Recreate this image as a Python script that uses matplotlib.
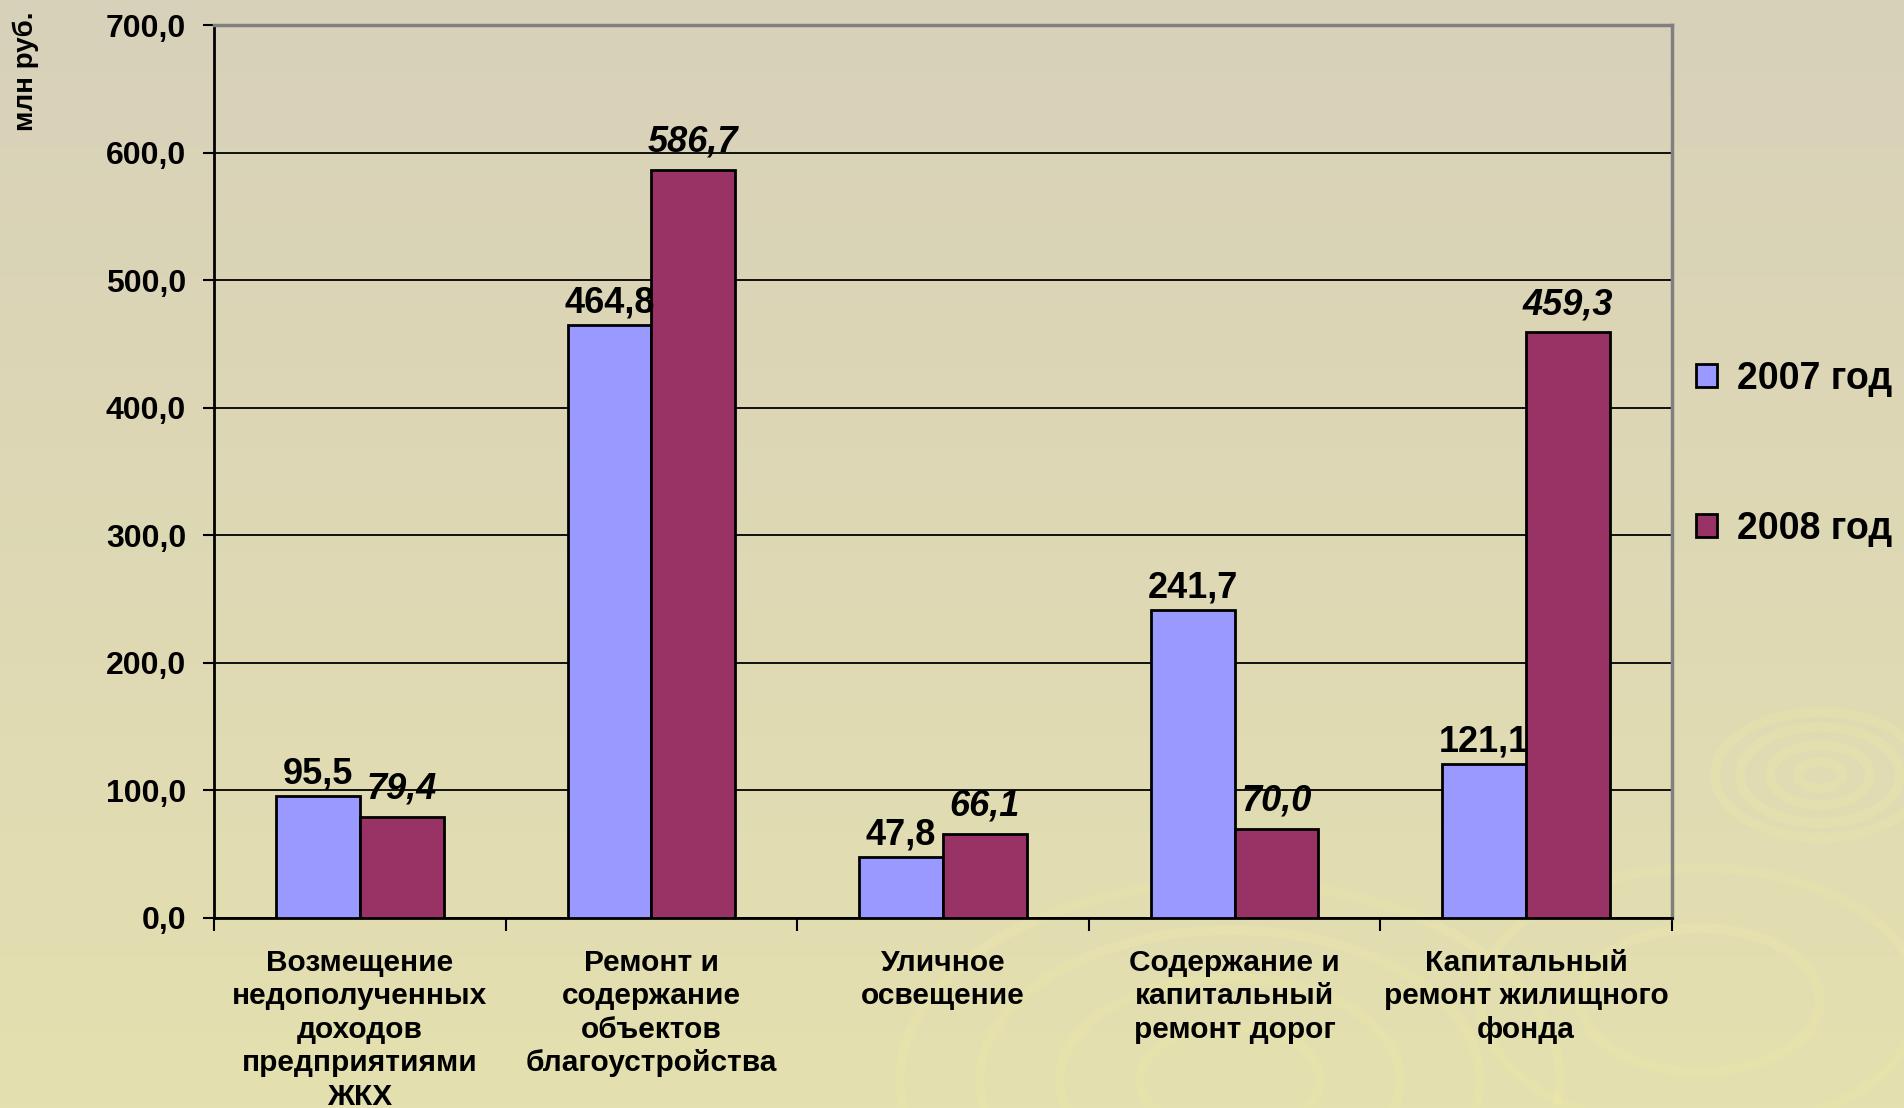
"""Bar chart: financing of housing and utilities, 2007 vs 2008 (mln rub.)."""

import numpy as np
import matplotlib
matplotlib.use("Agg")
import matplotlib.pyplot as plt
from matplotlib.patches import Ellipse, Patch
from matplotlib.ticker import FuncFormatter, MultipleLocator

categories = [
    "Возмещение\nнедополученных\nдоходов\nпредприятиями\nЖКХ",
    "Ремонт и\nсодержание\nобъектов\nблагоустройства",
    "Уличное\nосвещение",
    "Содержание и\nкапитальный\nремонт дорог",
    "Капитальный\nремонт жилищного\nфонда",
]
values_2007 = [95.5, 464.8, 47.8, 241.7, 121.1]
values_2008 = [79.4, 586.7, 66.1, 70.0, 459.3]
series_names = ["2007 год", "2008 год"]

COLOR_2007 = "#9999FF"
COLOR_2008 = "#993366"

plt.rcParams["font.family"] = ["Liberation Sans", "DejaVu Sans"]
plt.rcParams["font.weight"] = "bold"

fig = plt.figure(figsize=(19.04, 11.08), dpi=100)

# background: soft vertical gradient with a few faint ripples
bg = fig.add_axes([0, 0, 1, 1], zorder=-10)
top = np.array([0xD8, 0xD1, 0xBA]) / 255
bottom = np.array([0xE4, 0xE0, 0xAF]) / 255
t = np.linspace(0, 1, 256)[:, None]
grad = top[None, :] * (1 - t) + bottom[None, :] * t
bg.imshow(grad[:, None, :], aspect="auto", extent=[0, 1904, 1108, 0])
bg.set_xlim(0, 1904)
bg.set_ylim(1108, 0)
for cx, cy, radii in [(1820, 775, [22, 50, 80, 105]),
                      (1230, 1080, [90, 170, 250, 330]),
                      (1700, 1000, [120, 220])]:
    for r in radii:
        bg.add_patch(Ellipse((cx, cy), 2 * r, 1.2 * r, fill=False,
                             edgecolor="#EDE9A8", lw=7, alpha=0.3))
bg.axis("off")

ax = fig.add_axes([0.1124, 0.1715, 0.7657, 0.8055])
ax.set_facecolor("none")

x = np.arange(len(categories)) + 0.5
w = 0.2875
bars1 = ax.bar(x - w / 2, values_2007, w, color=COLOR_2007,
               edgecolor="black", linewidth=2, zorder=3)
bars2 = ax.bar(x + w / 2, values_2008, w, color=COLOR_2008,
               edgecolor="black", linewidth=2, zorder=3)

def fmt(v):
    return f"{v:.1f}".replace(".", ",")

for b, v in zip(bars1, values_2007):
    ax.annotate(fmt(v), (b.get_x() + b.get_width() / 2, v),
                xytext=(0, 9), textcoords="offset points",
                ha="center", va="baseline", fontsize=26, fontweight="bold")
for b, v in zip(bars2, values_2008):
    ax.annotate(fmt(v), (b.get_x() + b.get_width() / 2, v),
                xytext=(0, 13), textcoords="offset points",
                ha="center", va="baseline", fontsize=26,
                fontweight="bold", fontstyle="italic")

ax.set_xlim(0, len(categories))
ax.set_ylim(0, 700)
ax.yaxis.set_major_locator(MultipleLocator(100))
ax.yaxis.set_major_formatter(FuncFormatter(lambda v, _: fmt(v)))
ax.grid(axis="y", color="black", linewidth=1.3, zorder=0)
ax.set_axisbelow(True)

ax.set_xticks(np.arange(len(categories) + 1))
ax.set_xticklabels([])
ax.set_xticks(x, minor=True)
ax.set_xticklabels(categories, minor=True, fontsize=21.5, fontweight="bold",
                   linespacing=1.25)
ax.tick_params(axis="x", which="major", length=9, width=1.5, direction="out")
ax.tick_params(axis="x", which="minor", length=0, pad=22)
ax.tick_params(axis="y", length=8, width=1.5, pad=12, labelsize=23)
for lab in ax.get_yticklabels():
    lab.set_fontweight("bold")

for side in ("left", "bottom"):
    ax.spines[side].set_color("black")
    ax.spines[side].set_linewidth(2)
for side in ("top", "right"):
    ax.spines[side].set_color("#808080")
    ax.spines[side].set_linewidth(2.5)

fig.text(0.0135, 0.99, "млн руб.", rotation=90, ha="center", va="top",
         fontsize=20, fontweight="bold")

handles = [Patch(facecolor=COLOR_2007, edgecolor="black", linewidth=2),
           Patch(facecolor=COLOR_2008, edgecolor="black", linewidth=2)]
fig.legend(handles, series_names, loc="upper left",
           bbox_to_anchor=(0.873, 0.705), frameon=False,
           handlelength=0.55, handleheight=0.55, handletextpad=0.55,
           labelspacing=3.05, prop={"weight": "bold", "size": 27})

fig.savefig("out.png", dpi=100)
